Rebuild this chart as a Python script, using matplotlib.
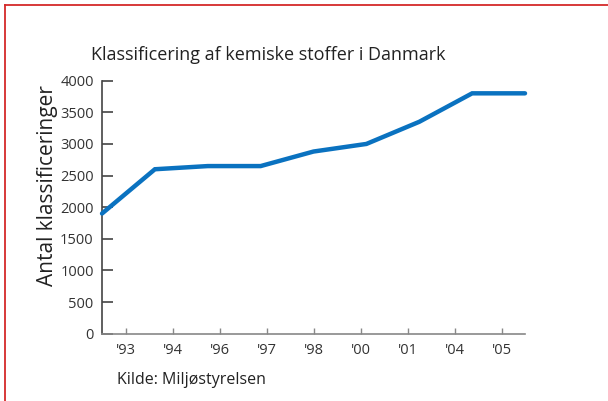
import matplotlib.pyplot as plt
from matplotlib.lines import Line2D

years = ["'93", "'94", "'96", "'97", "'98", "'00", "'01", "'04", "'05"]
antal = [1900, 2600, 2650, 2650, 2880, 3000, 3350, 3800, 3800]
yticks = [0, 500, 1000, 1500, 2000, 2500, 3000, 3500, 4000]

plt.rcParams['font.family'] = ['Open Sans', 'DejaVu Sans']

fig = plt.figure(figsize=(6.08, 4.01), dpi=100)
ax = fig.add_axes([0.1678, 0.1678, 0.6957, 0.631])

# datapunkterne ligger jævnt fordelt over hele aksen, årstallene i midten af felterne
n = len(antal)
ax.plot(range(n), antal, color='#0a72c0', linewidth=3.2, solid_capstyle='round',
        solid_joinstyle='miter', clip_on=False, zorder=3)
ax.set_xlim(0, n - 1)
ax.set_ylim(0, 4000)

ax.set_xticks([(i + 0.5) * (n - 1) / len(years) for i in range(len(years))])
ax.set_xticklabels(years, fontsize=10.5, color='#333333')
ax.set_yticks(yticks)
ax.set_yticklabels([str(v) for v in yticks], fontsize=10.5, color='#333333')

ax.tick_params(axis='y', direction='in', length=8, width=1.2, color='#444444', pad=6)
ax.tick_params(axis='x', direction='in', length=4, width=1.0, color='#888888', pad=7)

for s in ['top', 'right']:
    ax.spines[s].set_visible(False)
ax.spines['left'].set_color('#444444')
ax.spines['left'].set_linewidth(1.2)
ax.spines['bottom'].set_color('#888888')
ax.spines['bottom'].set_linewidth(1.2)

ax.set_ylabel('Antal klassificeringer', fontsize=15, color='#222222')
ax.yaxis.set_label_coords(-0.103, 0.585)

fig.text(91 / 608, 1 - 55 / 401, 'Klassificering af kemiske stoffer i Danmark',
         fontsize=13, color='#222222', ha='left', va='center')
fig.text(117 / 608, 1 - 380 / 401, 'Kilde: Miljøstyrelsen',
         fontsize=11.5, color='#222222', ha='left', va='center')

# rød ramme øverst og til venstre
fig.add_artist(Line2D([5 / 608, 5 / 608], [0, 1 - 5 / 401], transform=fig.transFigure,
                      color='#d42a2a', linewidth=1.3))
fig.add_artist(Line2D([5 / 608, 1], [1 - 5 / 401, 1 - 5 / 401], transform=fig.transFigure,
                      color='#d42a2a', linewidth=1.3))

fig.savefig('out.png', dpi=100)
